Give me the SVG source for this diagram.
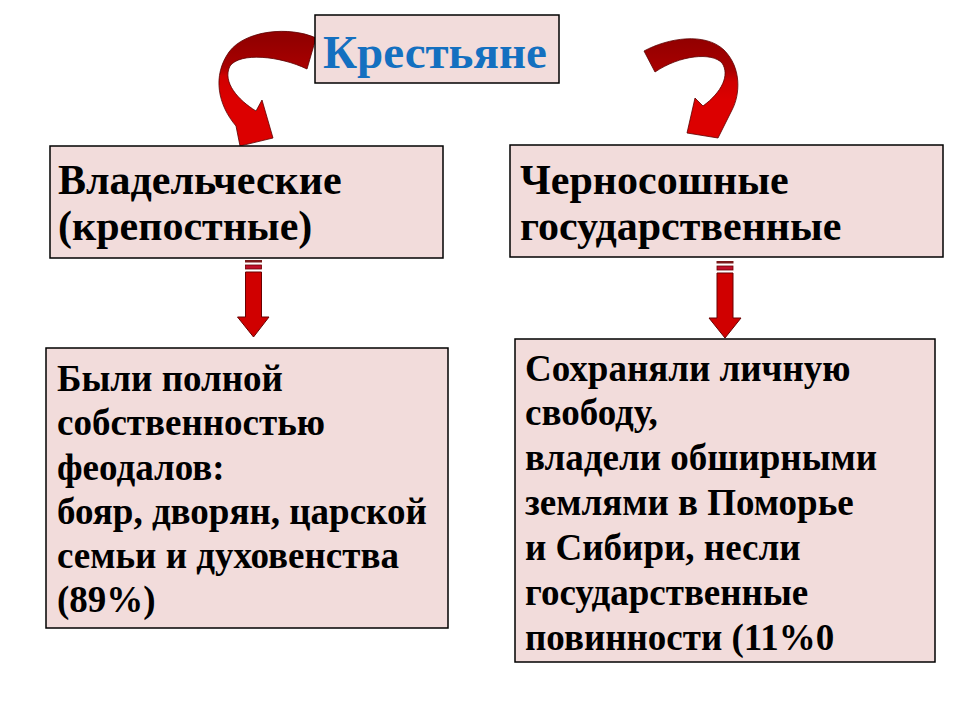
<svg xmlns="http://www.w3.org/2000/svg" width="960" height="720" viewBox="0 0 960 720">
<defs>
<linearGradient id="gL" gradientUnits="userSpaceOnUse" x1="0" y1="40" x2="0" y2="100">
<stop offset="0" stop-color="#930000"/>
<stop offset="0.45" stop-color="#a80000"/>
<stop offset="0.6" stop-color="#d00000"/>
<stop offset="1" stop-color="#dc0000"/>
</linearGradient>
<linearGradient id="gR" gradientUnits="userSpaceOnUse" x1="0" y1="40" x2="0" y2="100">
<stop offset="0" stop-color="#930000"/>
<stop offset="0.5" stop-color="#a80000"/>
<stop offset="0.7" stop-color="#d00000"/>
<stop offset="1" stop-color="#dc0000"/>
</linearGradient>
</defs>
<style>
.box{fill:#f2dcdb;stroke:#000;stroke-width:1.5}
.t{font-family:'Liberation Serif','Times New Roman',serif;font-weight:bold;fill:#000}
.big{font-size:42px}
.small{font-size:37px}
.title{font-size:47px;fill:#1470c0}
.curve{stroke:#5a0000;stroke-width:0.8}
.shaft{fill:#d00000;stroke:#6a0000;stroke-width:1}
.s1{fill:#7a1a1a}
.s2{fill:#c0102a;stroke:#6a0000;stroke-width:0.8}
</style>
<rect width="960" height="720" fill="#fff"/>

<g id="connectors">
<path class="curve" fill="url(#gL)" d="M 316 38 C 290 26, 245 30, 229 52 C 212 76, 218 105, 236 126 L 240 146 L 273 138 L 262 100 L 256 111 C 238 100, 222 82, 230 66 C 240 52, 280 56, 307 69 Z"/>
<path class="curve" fill="url(#gR)" d="M 644 51 C 668 38, 705 32, 724 50 C 742 68, 740 95, 732 110 L 718 138 L 687 133 L 695 98 L 703 106 C 722 92, 730 75, 722 63 C 712 52, 680 55, 655 72 Z"/>
<g>
<rect class="s1" x="245" y="260" width="17" height="2.5"/>
<rect class="s2" x="245.5" y="265" width="16" height="4"/>
<path class="shaft" d="M 245.5 272 L 261.5 272 L 261.5 317 L 269 317 L 253.5 337 L 237.5 317 L 245.5 317 Z"/>
</g>
<g>
<rect class="s1" x="716.5" y="261" width="17" height="2.5"/>
<rect class="s2" x="717" y="266" width="16" height="4"/>
<path class="shaft" d="M 717 273 L 733 273 L 733 318 L 741 318 L 725 338 L 709 318 L 717 318 Z"/>
</g>
</g>

<g id="node-peasants">
<rect class="box" x="315" y="15" width="244" height="68"/>
<text class="t title" x="323" y="68">Крестьяне</text>
</g>

<g id="node-owned">
<rect class="box" x="50" y="146" width="393" height="112"/>
<text class="t big" x="58" y="194">Владельческие</text>
<text class="t big" x="58" y="240">(крепостные)</text>
</g>

<g id="node-black">
<rect class="box" x="510" y="145" width="433" height="112"/>
<text class="t big" x="520" y="194">Черносошные</text>
<text class="t big" x="520" y="240">государственные</text>
</g>

<g id="node-owned-desc">
<rect class="box" x="46" y="348" width="402" height="280"/>
<text class="t small" x="57" y="391">Были полной</text>
<text class="t small" x="57" y="435">собственностью</text>
<text class="t small" x="57" y="480">феодалов:</text>
<text class="t small" x="57" y="524">бояр, дворян, царской</text>
<text class="t small" x="57" y="568">семьи и духовенства</text>
<text class="t small" x="57" y="612">(89%)</text>
</g>

<g id="node-black-desc">
<rect class="box" x="515" y="339" width="420" height="323"/>
<text class="t small" x="525" y="381">Сохраняли личную</text>
<text class="t small" x="525" y="425">свободу,</text>
<text class="t small" x="525" y="470">владели обширными</text>
<text class="t small" x="525" y="515">землями в Поморье</text>
<text class="t small" x="525" y="560">и Сибири, несли</text>
<text class="t small" x="525" y="605">государственные</text>
<text class="t small" x="525" y="650">повинности (11%0</text>
</g>
</svg>
